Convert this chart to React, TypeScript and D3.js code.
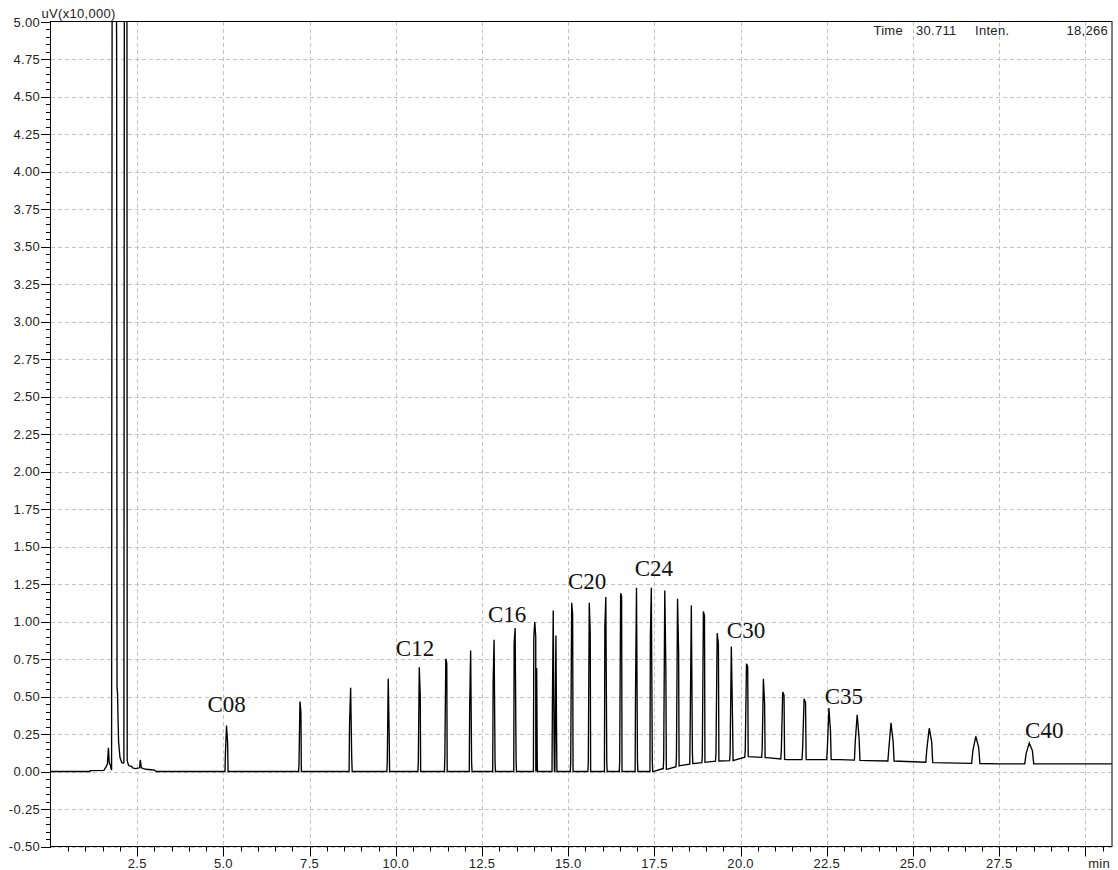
import React from "react";
import * as d3 from "d3";

// ---- Data -------------------------------------------------------------

// Solvent front and early eluters (min, uV x10,000)
const solventTimes = [
  0, 1.128, 1.14, 1.534, 1.592, 1.636, 1.665, 1.688, 1.723, 1.743, 1.757,
  1.775, 1.888, 1.903, 1.915, 1.93, 1.945, 1.96, 1.99, 2.0, 2.05, 2.09,
  2.114, 2.129, 2.201, 2.21, 2.25, 2.34, 2.37, 2.45, 2.57, 2.59, 2.62, 2.75,
  2.9, 3.0, 3.05,
];
const solventValues = [
  0, 0, 0.006, 0.008, 0.03, 0.05, 0.158, 0.06, 0.04, 0.02, 0.01, 6.0, 5.5,
  4.88, 0.56, 0.52, 0.34, 0.2, 0.12, 0.095, 0.06, 0.055, 0.06, 6.0, 6.0,
  0.073, 0.04, 0.035, 0.025, 0.02, 0.025, 0.078, 0.025, 0.015, 0.012, 0.01, 0,
];

// Column bleed / baseline drift
const baseTimes = [
  3.05, 17.46, 17.75, 17.86, 18.24, 18.62, 19.31, 19.78, 20.18, 20.76, 21.34,
  22.88, 23.66, 24.62, 25.58, 27.52, 30.77,
];
const baseValues = [
  0, 0, 0.02, 0.015, 0.04, 0.053, 0.07, 0.073, 0.1, 0.093, 0.08, 0.08, 0.073,
  0.069, 0.06, 0.051, 0.051,
];

// n-alkane peaks C8..C40 plus pristane / phytane
const peakNames = [
  "C08", "C09", "C10", "C11", "C12", "C13", "C14", "C15", "C16", "C17", "Pr",
  "C18", "Ph", "C19", "C20", "C21", "C22", "C23", "C24", "C25", "C26", "C27",
  "C28", "C29", "C30", "C31", "C32", "C33", "C34", "C35", "C36", "C37", "C38",
  "C39", "C40",
];
const peakTimes = [
  5.09, 7.22, 8.69, 9.78, 10.68, 11.45, 12.17, 12.85, 13.46, 14.03, 14.085,
  14.565, 14.643, 15.1, 15.61, 16.09, 16.52, 16.98, 17.41, 17.8, 18.17, 18.57,
  18.92, 19.32, 19.73, 20.17, 20.66, 21.22, 21.84, 22.56, 23.38, 24.36, 25.47,
  26.82, 28.37,
];
const peakHeights = [
  0.307, 0.467, 0.559, 0.619, 0.696, 0.752, 0.808, 0.879, 0.957, 0.997, 0.69,
  1.075, 0.908, 1.126, 1.126, 1.164, 1.19, 1.226, 1.226, 1.208, 1.153, 1.108,
  1.068, 0.923, 0.834, 0.719, 0.619, 0.53, 0.485, 0.423, 0.378, 0.325, 0.289,
  0.234, 0.19,
];
const peakLeftShoulder = [
  0.12, 0.05, 0.32, 0.06, 0.06, 0.1, 0.434, 0.585, 0.859, 0.897, 0.3,
  0.43, 0.27, 0.06, 0.06, 0.957, 0.06, 0.53, 0.89, 0.08, 0.1, 0.33,
  0.1, 0.12, 0.12, 0.15, 0.15, 0.15, 0.15, 0.15, 0.2, 0.15, 0.15,
  0.14, 0.12,
];
const peakRightShoulder = [
  0.196, 0.396, 0.087, 0.234, 0.514, 0.72, 0.06, 0.06, 0.07, 0.897, 0.05,
  0.2, 0.19, 1.048, 0.93, 0.06, 1.17, 0.07, 0.07, 0.69, 0.8, 0.12,
  1.037, 0.852, 0.35, 0.7, 0.452, 0.51, 0.46, 0.274, 0.22, 0.2, 0.2,
  0.16, 0.14,
];
const peakWidths = [
  0.09, 0.08, 0.09, 0.08, 0.08, 0.08, 0.08, 0.08, 0.08, 0.08, 0.05,
  0.07, 0.06, 0.08, 0.08, 0.08, 0.08, 0.08, 0.08, 0.09, 0.09, 0.09,
  0.09, 0.1, 0.1, 0.1, 0.1, 0.11, 0.12, 0.13, 0.16, 0.18, 0.2,
  0.24, 0.26,
];

// Annotations: name, left time of text, baseline level
const labelNames = ["C08", "C12", "C16", "C20", "C24", "C30", "C35", "C40"];
const labelTimes = [4.54, 10.0, 12.67, 14.99, 16.93, 19.6, 22.44, 28.25];
const labelLevels = [0.4, 0.774, 0.997, 1.215, 1.302, 0.893, 0.452, 0.225];

// Axis ticks
const xTickValues = [2.5, 5.0, 7.5, 10.0, 12.5, 15.0, 17.5, 20.0, 22.5, 25.0, 27.5];
const xTickLabels = ["2.5", "5.0", "7.5", "10.0", "12.5", "15.0", "17.5", "20.0", "22.5", "25.0", "27.5"];
const yTickValues = [
  -0.5, -0.25, 0, 0.25, 0.5, 0.75, 1.0, 1.25, 1.5, 1.75, 2.0, 2.25, 2.5, 2.75,
  3.0, 3.25, 3.5, 3.75, 4.0, 4.25, 4.5, 4.75, 5.0,
];

const headerTime = "30.711";
const headerInten = "18,266";

// ---- Layout -----------------------------------------------------------

const WIDTH = 1118;
const HEIGHT = 870;
const left = 51;
const right = 1112;
const top = 22;
const bottom = 846.5;

const sans = "'Liberation Sans', Arial, sans-serif";
const serif = "'Liberation Serif', 'Times New Roman', serif";

export default function App() {
  const x = d3.scaleLinear().domain([0, 30.77]).range([left, right]);
  const y = d3.scaleLinear().domain([-0.5, 5.0]).range([bottom, top]);
  const base = d3.scaleLinear().domain(baseTimes).range(baseValues).clamp(true);

  // Trace points: solvent region, then baseline with peaks
  const pts: [number, number][] = solventTimes.map((t, i) => [t, solventValues[i]]);
  const spans: [number, number][] = [];
  const peakPts: [number, number][] = [];
  peakTimes.forEach((t, i) => {
    const w = peakWidths[i];
    const s = w * 0.35;
    const t0 = t - w / 2;
    const t1 = t + w / 2;
    spans.push([t0, t1]);
    peakPts.push([t0, base(t0)]);
    peakPts.push([t - s, Math.max(base(t - s), peakLeftShoulder[i])]);
    peakPts.push([t, peakHeights[i]]);
    peakPts.push([t + s, Math.max(base(t + s), peakRightShoulder[i])]);
    peakPts.push([t1, base(t1)]);
  });
  const basePts: [number, number][] = baseTimes
    .map((t, i) => [t, baseValues[i]] as [number, number])
    .filter(([t]) => !spans.some(([a, b]) => t > a && t < b));
  const rest = [...basePts, ...peakPts].sort((a, b) => a[0] - b[0]);
  const trace = [...pts, ...rest];

  const line = d3
    .line<[number, number]>()
    .x((d) => x(d[0]))
    .y((d) => y(d[1]));

  const xMinor = d3.range(0.5, 30.77, 0.5);
  const xMajor = d3.range(2.5, 30.01, 2.5);
  const yMinor = d3.range(-0.5, 5.001, 0.05);
  const gridColor = "#c4c4c4";

  return (
    <svg
      width={WIDTH}
      height={HEIGHT}
      style={{ position: "absolute", left: 0, top: 0, background: "#fff" }}
    >
      <defs>
        <clipPath id="plot-clip">
          <rect x={left} y={top} width={right - left} height={bottom - top} />
        </clipPath>
      </defs>
      <rect x={0} y={0} width={WIDTH} height={HEIGHT} fill="#fff" />

      {/* grid */}
      <g stroke={gridColor} strokeWidth={1} strokeDasharray="4,3">
        {xMajor.map((v) => (
          <line key={"gx" + v} x1={Math.round(x(v)) + 0.5} x2={Math.round(x(v)) + 0.5} y1={top} y2={bottom} />
        ))}
        {yTickValues
          .filter((v) => v < 5)
          .map((v) => (
            <line key={"gy" + v} x1={left} x2={right} y1={Math.round(y(v)) + 0.5} y2={Math.round(y(v)) + 0.5} />
          ))}
      </g>

      {/* header */}
      <g fontFamily={sans} fontSize={13} fill="#222" letterSpacing={0.3}>
        <text x={903} y={34.5} textAnchor="end">Time</text>
        <text x={916} y={34.5}>{headerTime}</text>
        <text x={975} y={34.5}>Inten.</text>
        <text x={1108} y={34.5} textAnchor="end">{headerInten}</text>
        <text x={41.5} y={18}>uV(x10,000)</text>
      </g>

      {/* trace */}
      <path
        d={line(trace) || ""}
        fill="none"
        stroke="#000"
        strokeWidth={1.35}
        strokeLinejoin="miter"
        clipPath="url(#plot-clip)"
      />

      {/* peak annotations */}
      <g fontFamily={serif} fontSize={23} fill="#111">
        {labelNames.map((n, i) => (
          <text key={n} x={x(labelTimes[i])} y={y(labelLevels[i])}>
            {n}
          </text>
        ))}
      </g>

      {/* frame */}
      <rect
        x={left - 0.5}
        y={top - 0.5}
        width={right - left + 0.5}
        height={bottom - top + 0.5}
        fill="none"
        stroke="#000"
        strokeWidth={1}
      />

      {/* y axis ticks */}
      <g stroke="#000" strokeWidth={1}>
        {yMinor.map((v, i) => (
          <line key={"ym" + i} x1={left - 5} x2={left} y1={Math.round(y(v)) + 0.5} y2={Math.round(y(v)) + 0.5} />
        ))}
        {yTickValues.map((v) => (
          <line key={"yM" + v} x1={left - 10} x2={left} y1={Math.round(y(v)) + 0.5} y2={Math.round(y(v)) + 0.5} />
        ))}
      </g>
      <g fontFamily={sans} fontSize={13} fill="#222" textAnchor="end" letterSpacing={0.3}>
        {yTickValues.map((v) => (
          <text key={"yl" + v} x={40} y={y(v) + 4.5}>
            {v.toFixed(2)}
          </text>
        ))}
      </g>

      {/* x axis ticks */}
      <g stroke="#000" strokeWidth={1}>
        {xMinor.map((v, i) => (
          <line key={"xm" + i} x1={Math.round(x(v)) + 0.5} x2={Math.round(x(v)) + 0.5} y1={bottom} y2={bottom + 5} />
        ))}
        {xMajor.map((v) => (
          <line key={"xM" + v} x1={Math.round(x(v)) + 0.5} x2={Math.round(x(v)) + 0.5} y1={bottom} y2={bottom + 10} />
        ))}
      </g>
      <g fontFamily={sans} fontSize={13} fill="#222" textAnchor="middle" letterSpacing={0.3}>
        {xTickValues.map((v, i) => (
          <text key={"xl" + v} x={x(v)} y={868}>
            {xTickLabels[i]}
          </text>
        ))}
        <text x={1110} y={868} textAnchor="end">min</text>
      </g>
    </svg>
  );
}
